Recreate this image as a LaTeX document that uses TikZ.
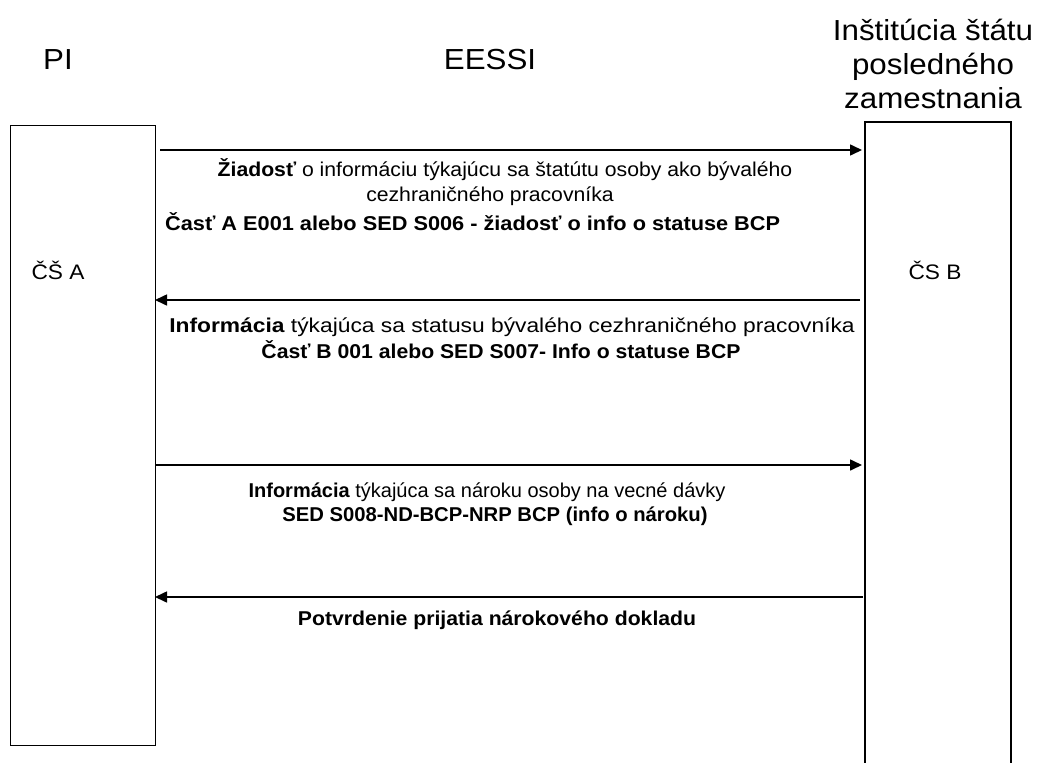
\documentclass[tikz,border=0pt]{standalone}
\usepackage{fontspec}
\usepackage{graphicx}
\setmainfont{Liberation Sans}
\newfontfamily\widefont[FakeStretch=1.06]{Liberation Sans}
\newfontfamily\headfont[FakeStretch=1.08]{Liberation Sans}
\usetikzlibrary{arrows.meta}
\begin{document}
\begin{tikzpicture}[x=1pt,y=-1pt,
  lane/.style={draw,line width=1.4pt,minimum width=145pt,inner sep=0pt,anchor=north west},
  head/.style={font=\headfont\fontsize{29}{34}\selectfont,align=center},
  msg/.style={line width=1.6pt,-{Triangle[length=12pt,width=11pt]}},
  lbl/.style={font=\widefont\fontsize{20}{24}\selectfont,inner sep=0pt},
  side/.style={font=\headfont\fontsize{21}{24}\selectfont}]
\useasboundingbox (0,0) rectangle (1039,763);
% lanes
\node[lane,minimum height=620pt] (L) at (10,125) {};
\draw[line width=1.4pt] (865,770) |- (1011,122) -- (1011,770);
\coordinate (R) at (865,122);
% headers
\node[head] (hPI) at (58,60) {PI};
\node[head] (hE) at (490,60) {EESSI};
\node[head] (hR) at (933,64) {Inštitúcia štátu\\posledného\\zamestnania};
\node[side] (cA) at (58,270) {ČŠ A};
\node[side] (cB) at (935,270) {ČS B};
% arrow endpoints
\coordinate (a1s) at (160,150); \coordinate (a1e) at (862,150);
\coordinate (a2s) at (860,300); \coordinate (a2e) at (155,300);
\coordinate (a3s) at (155,465); \coordinate (a3e) at (862,465);
\coordinate (a4s) at (863,597); \coordinate (a4e) at (155,597);
\draw[msg] (a1s) -- (a1e);
\draw[msg] (a2s) -- (a2e);
\draw[msg] (a3s) -- (a3e);
\draw[msg] (a4s) -- (a4e);
% labels
\node[lbl] (t1a) at (505,170) {\textbf{Žiadosť} o informáciu týkajúcu sa štatútu osoby ako bývalého};
\node[lbl] (t1b) at (490,196) {cezhraničného pracovníka};
\node[lbl,anchor=west] (t1c) at (165,222) {\scalebox{1.025}[1]{\textbf{Časť A E001 alebo SED S006 - žiadosť o info o statuse BCP}}};
\node[lbl] (t2a) at (512,327) {\scalebox{1.075}[1]{\textbf{Informácia} týkajúca sa statusu bývalého cezhraničného pracovníka}};
\node[lbl] (t2b) at (501,350) {\textbf{Časť B 001 alebo SED S007- Info o statuse BCP}};
\node[lbl] (t3a) at (487,492) {\scalebox{0.943}[1]{\textbf{Informácia} týkajúca sa nároku osoby na vecné dávky}};
\node[lbl] (t3b) at (495,516) {\scalebox{0.955}[1]{\textbf{SED S008-ND-BCP-NRP BCP (info o nároku)}}};
\node[lbl] (t4) at (497,620) {\textbf{Potvrdenie prijatia nárokového dokladu}};
\end{tikzpicture}
\end{document}
